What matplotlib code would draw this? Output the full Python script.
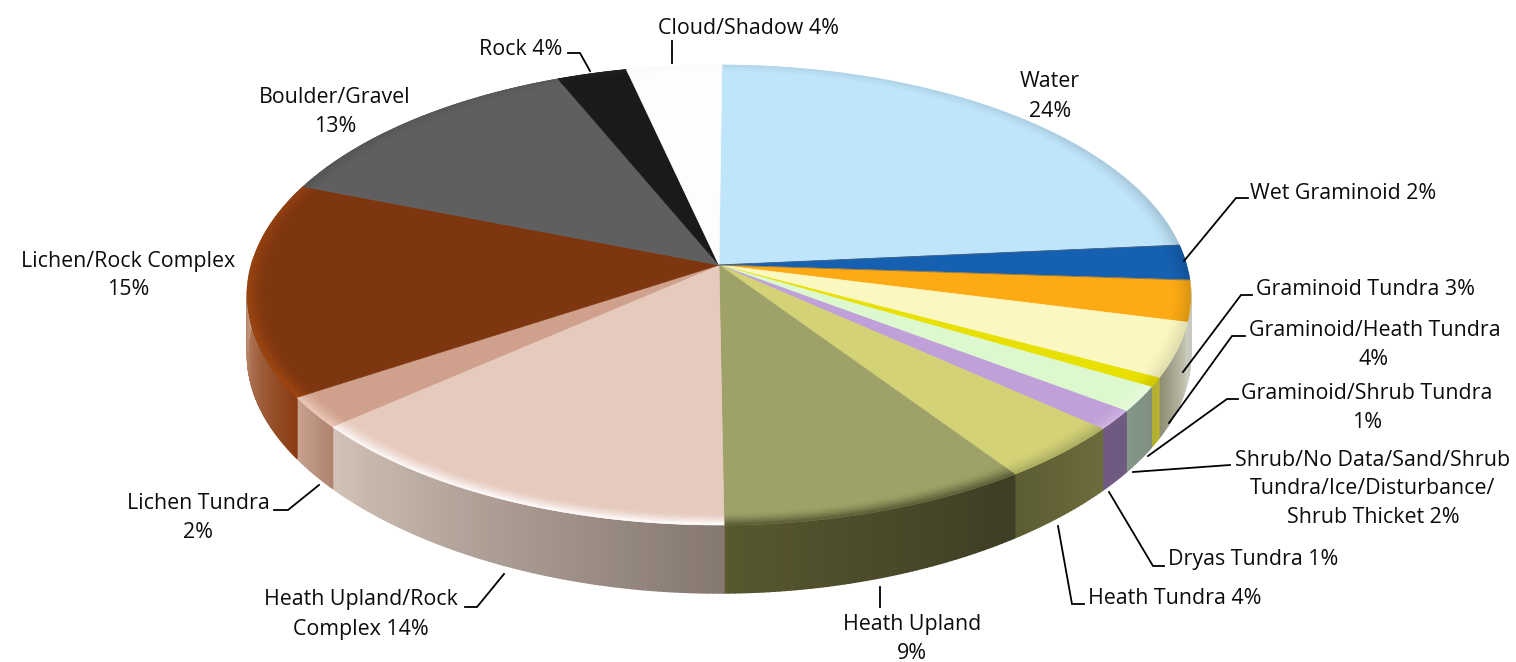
import numpy as np
import matplotlib
matplotlib.use('Agg')
import matplotlib.pyplot as plt
from matplotlib.collections import PolyCollection
from matplotlib.colors import to_rgb

plt.rcParams['font.family'] = ['Open Sans', 'DejaVu Sans']

# slice sizes (percent of circle), clockwise from the top
classes = ['Water', 'Wet Graminoid', 'Graminoid Tundra', 'Graminoid/Heath Tundra',
           'Graminoid/Shrub Tundra', 'Shrub/No Data/Sand', 'Dryas Tundra', 'Heath Tundra',
           'Heath Upland', 'Heath Upland/Rock Complex', 'Lichen Tundra', 'Lichen/Rock Complex',
           'Boulder/Gravel', 'Rock', 'Cloud/Shadow']
values = [23.47, 2.47, 2.89, 3.83, 0.64, 1.75, 1.36, 3.94,
          9.39, 13.80, 2.19, 15.08, 12.78, 2.72, 3.69]

top_colors = ['#bfe5fa', '#1560b0', '#fdaa14', '#fbf7c0', '#e8e000', '#ddf8cf', '#bfa0d8', '#d3d277',
              '#9ea268', '#e7cabe', '#cfa08b', '#7d3610', '#5f5f5f', '#1a1a1a', '#fdfdfd']
bevel_colors = ['#8fa8b8', '#104a88', '#c98a10', '#d8d5a8', '#c8c000', '#e8fce0', '#d0b8e4', '#a8a860',
                '#5a5a34', '#ffffff', '#f0d0c0', '#a84a10', '#4a4a4a', '#303030', '#f4f4f4']
# side wall colour at the clockwise start and end of each slice
side_start = ['#a0b0b8', '#a0a8a8', '#c8c8bc', '#d0d0c0', '#b8b430', '#7f9080', '#6f5a80', '#6c6c3c',
              '#3e3d25', '#857870', '#b08470', '#8a3c12', '#555555', '#222222', '#eeeeee']
side_end = ['#a0b0b8', '#a0a8a8', '#c8c8bc', '#8c8c74', '#b0ac30', '#86988a', '#705a82', '#5c5c33',
            '#58582f', '#d2c2b7', '#c9a592', '#e9d6c7', '#555555', '#222222', '#eeeeee']

# text lines: string, x, y, alignment
label_text = ['Cloud/Shadow 4%', 'Rock 4%', 'Water', '24%', 'Boulder/Gravel', '13%',
              'Lichen/Rock Complex', '15%', 'Wet Graminoid 2%', 'Graminoid Tundra 3%',
              'Graminoid/Heath Tundra', '4%', 'Graminoid/Shrub Tundra', '1%',
              'Shrub/No Data/Sand/Shrub', 'Tundra/Ice/Disturbance/', 'Shrub Thicket 2%',
              'Dryas Tundra 1%', 'Heath Tundra 4%', 'Heath Upland', '9%',
              'Heath Upland/Rock', 'Complex 14%', 'Lichen Tundra', '2%']
label_x = [749, 521, 1050, 1050, 335, 335, 128, 128, 1250, 1256, 1249, 1374, 1367, 1367,
           1373, 1373, 1373, 1168, 1088, 912, 912, 361, 361, 198, 198]
label_y = [28.5, 49.5, 81.5, 111.5, 97.5, 126.5, 261.5, 289.5, 193.5, 289.5, 330.5, 359.5, 393.5, 422.5,
           460.5, 488.5, 517.5, 559.5, 598.5, 624.5, 653.5, 599.5, 629.5, 503.5, 532.5]
label_ha = ['center', 'center', 'center', 'center', 'center', 'center', 'center', 'center',
            'left', 'left', 'left', 'center', 'center', 'center', 'center', 'center', 'center',
            'left', 'left', 'center', 'center', 'center', 'center', 'center', 'center']

leaders = [[(568, 53), (580, 53), (590, 71)],
           [(671.5, 41), (671.5, 63)],
           [(1184, 261), (1236, 198), (1248, 198)],
           [(1183, 372), (1241, 295), (1252, 295)],
           [(1169, 423), (1232, 336), (1245, 336)],
           [(1148, 456), (1227, 399), (1238, 399)],
           [(1133, 472), (1230, 465)],
           [(1109, 492), (1153, 566), (1164, 566)],
           [(1058, 526), (1072, 604), (1084, 604)],
           [(880, 587), (880, 607)],
           [(504, 574), (477, 607), (465, 607)],
           [(319, 485), (288, 510), (274, 510)]]

# pie geometry in pixels, perspective circle seen from above
cx, cy = 719, 265
rx, ry, k = 467.5, 226.0, 0.1304


def project(theta, r=1.0):
    u, v = np.sin(theta) * r, np.cos(theta) * r
    w = 1 + k * v
    return cx + rx * u / w, cy - ry * v / w


def depth(theta):
    v = np.minimum(np.cos(theta), 0)
    return 60 + 8 * v**4


def mix(c1, c2, t):
    a, b = np.array(to_rgb(c1)), np.array(to_rgb(c2))
    return tuple(a + (b - a) * t)


fig = plt.figure(figsize=(15.16, 6.62), dpi=100)
ax = fig.add_axes([0, 0, 1, 1])
ax.set_xlim(0, 1516)
ax.set_ylim(662, 0)
ax.axis('off')

edges = np.radians(np.concatenate([[0.4], 0.4 + np.cumsum(values) * 3.6]))

# side wall first, it is hidden behind the top face where it faces away
for i in range(len(values)):
    t0, t1 = edges[i], edges[i + 1]
    a = max(t0, np.radians(92))
    b = min(t1, np.radians(272))
    if b <= a:
        continue
    steps = np.linspace(a, b, max(int((b - a) * 100), 3))
    polys, cols = [], []
    for n in range(len(steps) - 1):
        s0, s1 = steps[n], steps[n + 1]
        x0, y0 = project(s0)
        x1, y1 = project(s1)
        polys.append([(x0, y0), (x1, y1), (x1, y1 + depth(s1)), (x0, y0 + depth(s0))])
        f = (s0 - t0) / (t1 - t0)
        cols.append(mix(side_start[i], side_end[i], f))
    ax.add_collection(PolyCollection(polys, facecolors=cols, edgecolors=cols, linewidths=1.2, zorder=2))

# top face, then a smooth band near the rim for the rounded edge (stronger at the front)
rings = np.linspace(0.96, 1.0, 11)
for i in range(len(values)):
    th = np.linspace(edges[i], edges[i + 1], max(int((edges[i + 1] - edges[i]) * 60), 4))
    x, y = project(th)
    ax.fill(np.r_[cx, x], np.r_[cy, y], color=top_colors[i], lw=0.5, zorder=3)
    polys, cols = [], []
    for j in range(len(rings) - 1):
        w = ((j + 0.5) / (len(rings) - 1))**1.5
        for n in range(len(th) - 1):
            xa, ya = project(th[n:n + 2], rings[j])
            xb, yb = project(th[n:n + 2], rings[j + 1])
            strength = 0.25 + 0.75 * (1 - np.cos(th[n])) / 2
            polys.append([(xa[0], ya[0]), (xa[1], ya[1]), (xb[1], yb[1]), (xb[0], yb[0])])
            cols.append(mix(top_colors[i], bevel_colors[i], w * strength))
    ax.add_collection(PolyCollection(polys, facecolors=cols, edgecolors=cols, linewidths=0.5, zorder=4))

# thin dark seams around the blue slice
for t in edges[1:3]:
    x, y = project(t)
    ax.plot([cx, x], [cy, y], color='#556070', lw=0.7, alpha=0.6, zorder=5)

for pts in leaders:
    ax.plot([p[0] for p in pts], [p[1] for p in pts], color='black', lw=1.3,
            solid_joinstyle='miter', zorder=6)

for s, x, y, ha in zip(label_text, label_x, label_y, label_ha):
    ax.text(x, y, s, ha=ha, va='center', fontsize=15.4, color='#0c0c0c', zorder=7)

fig.savefig('out.png', dpi=100)
